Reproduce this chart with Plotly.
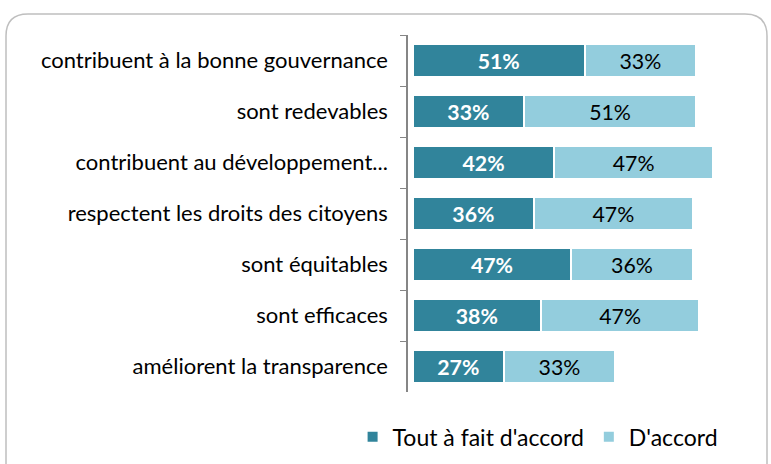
import plotly.graph_objects as go

categories = ["contribuent à la bonne gouvernance", "sont redevables", "contribuent au développement...",
              "respectent les droits des citoyens", "sont équitables", "sont efficaces",
              "améliorent la transparence"]
tout_a_fait = [51, 33, 42, 36, 47, 38, 27]
d_accord = [33, 51, 47, 47, 36, 47, 33]
series_names = ["Tout à fait d'accord", "D'accord"]

W, H = 771, 464
L, R, T, B = 408, 21, 35, 72
FONT = "Lato, sans-serif"

fig = go.Figure()
fig.add_trace(go.Bar(
    y=categories, x=tout_a_fait, orientation="h", name=series_names[0],
    marker=dict(color="#31849B", line=dict(color="white", width=2)),
    text=[f"{v}%" for v in tout_a_fait], textposition="inside", insidetextanchor="middle",
    textfont=dict(color="white", size=22, family=FONT, weight="bold"),
))
fig.add_trace(go.Bar(
    y=categories, x=d_accord, orientation="h", name=series_names[1],
    marker=dict(color="#93CDDD", line=dict(color="white", width=2)),
    text=[f"{v}%" for v in d_accord], textposition="inside", insidetextanchor="middle",
    textfont=dict(color="black", size=22, family=FONT),
))

pw = W - L - R
ph = H - T - B
def px(x):
    return (x - L) / pw
def py(y):
    return (H - B - y) / ph

x0, x1, y0, y1, r = 6, 767, 14, 475, 22
path = (f"M {px(x0)},{py(y0 + r)} Q {px(x0)},{py(y0)} {px(x0 + r)},{py(y0)} "
        f"L {px(x1 - r)},{py(y0)} Q {px(x1)},{py(y0)} {px(x1)},{py(y0 + r)} "
        f"L {px(x1)},{py(y1)} L {px(x0)},{py(y1)} Z")

fig.update_layout(
    width=W, height=H, barmode="stack", bargap=0.37,
    margin=dict(l=L, r=R, t=T, b=B, autoexpand=False),
    paper_bgcolor="white", plot_bgcolor="white",
    font=dict(family=FONT, size=22, color="black"),
    uniformtext=dict(minsize=10, mode="show"),
    xaxis=dict(range=[-1.4, 100], visible=False, fixedrange=True),
    yaxis=dict(autorange="reversed", showline=True, linecolor="#868686", linewidth=1.5,
               ticks="outside", tickson="boundaries", ticklen=6, tickcolor="#868686",
               tickfont=dict(size=22, family=FONT, color="black"), ticklabelstandoff=14,
               showgrid=False, zeroline=False, automargin=False, fixedrange=True),
    legend=dict(orientation="h", x=-0.162, xanchor="left", y=-0.065, yanchor="top",
                font=dict(size=23, family=FONT), traceorder="normal", itemwidth=30),
    shapes=[dict(type="path", xref="paper", yref="paper", path=path,
                 line=dict(color="#BFBFBF", width=1.5), layer="below")],
    showlegend=True,
)

fig.write_html("out.html", config={"displayModeBar": False},
               post_script="document.body.style.margin='0';document.body.style.padding='0';")
